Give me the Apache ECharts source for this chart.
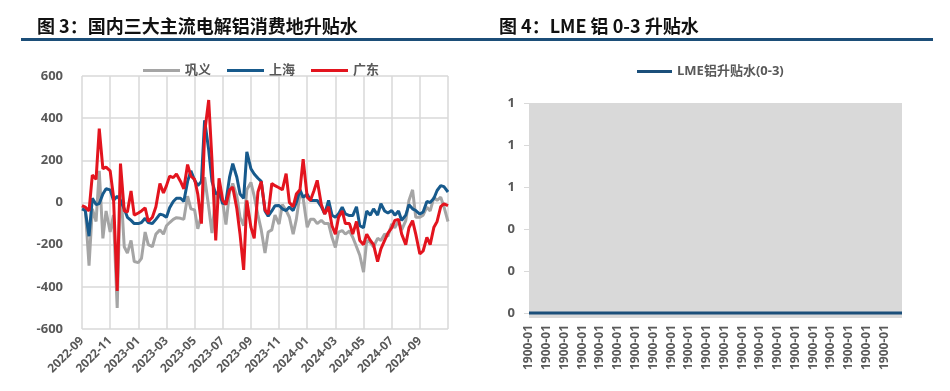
<!DOCTYPE html>
<html><head><meta charset="utf-8">
<script src="https://cdn.jsdelivr.net/npm/echarts@6/dist/echarts.min.js"></script>
<style>html,body{margin:0;padding:0;background:#fff}#c{width:950px;height:391px}</style>
</head><body><div id="c"></div>
<script>
// ---- Left chart: weekly observation dates (2022-09 .. 2024-11)
const obsDays = [1, 8, 16, 23];
const dates = [];
for (let i = 0; i < 26; i++) {
  const y = 2022 + Math.floor((8 + i) / 12), mo = (8 + i) % 12 + 1;
  obsDays.forEach(d => dates.push(y + '-' + String(mo).padStart(2, '0') + '-' + String(d).padStart(2, '0')));
}
dates.push('2024-11-01');

const gongyi = [
  -20, -30, -300, -30, -90, 150, -170, -40, -140, -60, -500, 100, -210, -240, -180, -280, -285, -265, -140, -200, -210, -150, -130, -150, -110, -95, -80, -72,
  -75, -80, 30, -30, -35, -125, -60, 120, -20, -145, 35, 55, 0, -105, 50, 90, 30, -70, -110, 60, 95, 30, -60, -130, -240, -140,
  -130, -60, -102, -10, -38, -70, -150, -80, 40, 20, -117, -80, -80, -100, -85, -100, -100, -165, -213, -140, -133, -150, -135, -165,
  -210, -250, -330, -180, -190, -210, -170, -180, -150, -160, -102, -120, -86, -130, -86, 10, 60, -70, -70, -60, -22, -40, 25, 10, 25, -20, -90
];
const shanghai = [
  -30, -38, -160, 20, -10, -5, 40, 65, 60, 10, 30, 10, -30, -70, -85, -100, -100, -95, -75, -95, -100, -80, -55, -60, -70, -25, 5, 20,
  20, 5, 100, 150, 105, 80, 100, 390, 250, 100, 40, 50, -6, 5, 120, 184, 120, 40, 20, 240, 160, 135, 115, 100, -40, -65,
  -40, -15, -14, -30, -38, -22, -38, 0, 60, 25, 40, 10, 10, 10, -20, -54, 10, -60, -70, -54, -22, -54, -62, -62,
  -20, -110, -120, -40, -60, -30, -60, -6, -40, -50, -38, -60, -40, -85, -60, -10, -30, -38, -55, -45, 5, 0, 20, 57, 80, 75, 50
];
const guangdong = [
  -15, -22, -40, 130, 110, 350, 160, 168, 150, 30, -420, 185, -40, -45, 55, -60, -50, -40, -25, -90, -70, -20, 90, 45, 80, 125, 118, 135,
  100, 65, 180, 125, 110, 40, -100, 330, 486, 200, -180, 115, 10, -10, 60, 73, -30, -150, -320, 10, -117, -170, 50, 100, -35, -55,
  90, 80, 70, 60, 137, 0, -20, 40, 60, 205, 25, 10, 57, 105, -10, -55, -20, -110, -150, -70, -40, -100, -100, -150,
  -90, -180, -200, -150, -180, -200, -280, -220, -180, -145, -120, -85, -80, -150, -200, -120, -86, -150, -244, -230, -165, -200, -117, -90, -20, -6, -15
];
const leftYTicks = [-600, -400, -200, 0, 200, 400, 600];

// ---- Right chart
const lmeCats = ['1900-01','1900-01','1900-01','1900-01','1900-01','1900-01','1900-01','1900-01','1900-01','1900-01','1900-01',
                 '1900-01','1900-01','1900-01','1900-01','1900-01','1900-01','1900-01','1900-01','1900-01','1900-01','1900-01'];
const lmeVals = [0,0,0,0,0,0,0,0,0,0,0,0,0,0,0,0,0,0,0,0,0,0];
const rightYTicks = [0, 0.2, 0.4, 0.6, 0.8, 1];

const titles = ['图 3：国内三大主流电解铝消费地升贴水', '图 4：LME 铝 0-3 升贴水'];

function monthPos(s) {
  const [y, mo, d] = s.split('-').map(Number);
  const dim = new Date(y, mo, 0).getDate();
  return (y - 2022) * 12 + (mo - 9) + (d - 1) / dim;
}
function pairs(vals) { return dates.map((d, i) => [monthPos(d), vals[i]]); }
function monthLabel(v) {
  const t = 8 + Math.round(v);
  return (2022 + Math.floor(t / 12)) + '-' + String(t % 12 + 1).padStart(2, '0');
}

const FONT = "'Open Sans','Noto Sans CJK SC',sans-serif";
const LBL = { color: '#595959', fontWeight: 'bold', fontFamily: FONT };
const GRIDC = '#D9D9D9';
const C_GRAY = '#A5A5A5', C_BLUE = '#175A8C', C_RED = '#E3141E', C_LME = '#1B4F7A';

const chart = echarts.init(document.getElementById('c'), null, { renderer: 'canvas' });
chart.setOption({
  animation: false,
  backgroundColor: '#fff',
  title: [
    { text: titles[0], left: 32, top: 12, textStyle: { fontSize: 18, fontWeight: 'bold', color: '#111', fontFamily: "'Noto Sans CJK SC',sans-serif" } },
    { text: titles[1], left: 494, top: 12, textStyle: { fontSize: 18, fontWeight: 'bold', color: '#111', fontFamily: "'Noto Sans CJK SC',sans-serif" } }
  ],
  graphic: [
    { type: 'line', shape: { x1: 21, y1: 39.5, x2: 933, y2: 39.5 }, style: { stroke: '#1C4E78', lineWidth: 3 } }
  ],
  legend: [
    { data: ['巩义', '上海', '广东'], left: 138, top: 59, icon: 'rect', itemWidth: 37, itemHeight: 3, itemGap: 16,
      textStyle: Object.assign({ fontSize: 13 }, LBL) },
    { data: ['LME铝升贴水(0-3)'], left: 632, top: 60, icon: 'rect', itemWidth: 35, itemHeight: 3,
      textStyle: Object.assign({ fontSize: 13 }, LBL) }
  ],
  grid: [
    { left: 82, top: 76, width: 366, height: 253 },
    { left: 529, top: 103, width: 373, height: 215, show: true, backgroundColor: '#D9D9D9', borderWidth: 0 }
  ],
  xAxis: [
    { type: 'value', gridIndex: 0, min: 0, max: 26, interval: 2,
      axisLine: { show: false }, axisTick: { show: false },
      splitLine: { show: true, lineStyle: { color: GRIDC, width: 1.5 } },
      axisLabel: Object.assign({ fontSize: 12, rotate: 45, margin: 10, showMaxLabel: false, formatter: monthLabel }, LBL) },
    { type: 'category', gridIndex: 1, data: lmeCats, boundaryGap: false,
      axisLine: { show: false }, axisTick: { show: false }, splitLine: { show: false },
      axisLabel: Object.assign({ fontSize: 12, rotate: 90, margin: 7, interval: (i) => i < 21 }, LBL) }
  ],
  yAxis: [
    { type: 'value', gridIndex: 0, min: -600, max: 600, interval: 200,
      axisLine: { show: false }, axisTick: { show: false },
      splitLine: { show: true, lineStyle: { color: GRIDC, width: 1.5 } },
      axisLabel: Object.assign({ fontSize: 13, margin: 19 }, LBL) },
    { type: 'value', gridIndex: 1, min: -0.024, max: 1,
      axisLine: { show: false },
      axisTick: { show: true, customValues: rightYTicks, length: 5, lineStyle: { color: GRIDC } },
      splitLine: { show: false },
      axisLabel: Object.assign({ fontSize: 13, margin: 14, customValues: rightYTicks, formatter: v => v.toFixed(0) }, LBL) }
  ],
  series: [
    { name: '巩义', type: 'line', xAxisIndex: 0, yAxisIndex: 0, data: pairs(gongyi), showSymbol: false, color: C_GRAY, lineStyle: { width: 3 } },
    { name: '上海', type: 'line', xAxisIndex: 0, yAxisIndex: 0, data: pairs(shanghai), showSymbol: false, color: C_BLUE, lineStyle: { width: 3 } },
    { name: '广东', type: 'line', xAxisIndex: 0, yAxisIndex: 0, data: pairs(guangdong), showSymbol: false, color: C_RED, lineStyle: { width: 3 } },
    { name: 'LME铝升贴水(0-3)', type: 'line', xAxisIndex: 1, yAxisIndex: 1, data: lmeVals, showSymbol: false, color: C_LME, lineStyle: { width: 3 } }
  ]
});
</script>
</body></html>
